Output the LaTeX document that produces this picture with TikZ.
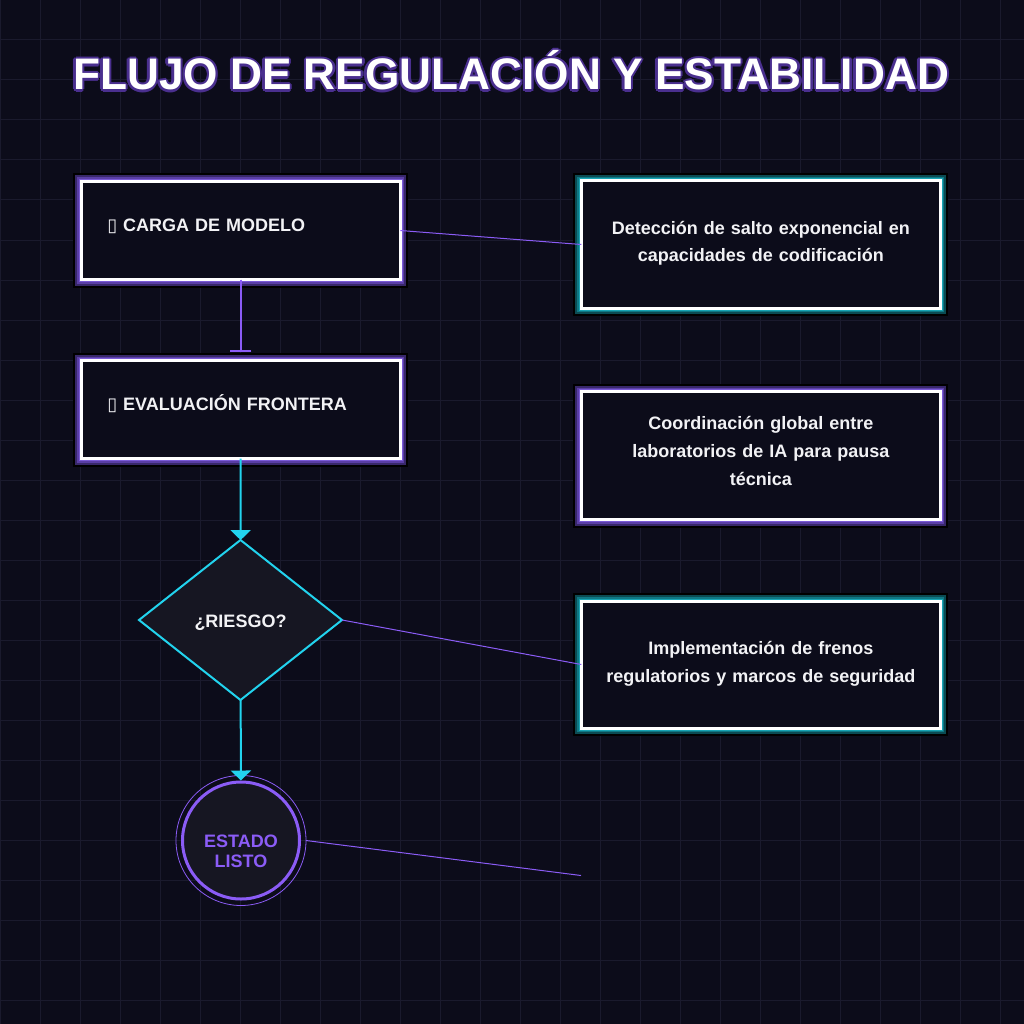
\documentclass[tikz,border=0pt]{standalone}
\usepackage{fontspec}
\setmainfont{Liberation Sans}
\newfontfamily\glyphfont{DejaVu Sans}
\usepackage{tikz}
\usetikzlibrary{arrows.meta,shapes.geometric}
\definecolor{bg}{HTML}{0C0C1A}
\definecolor{gridc}{HTML}{1A1A2D}
\definecolor{panel}{HTML}{161622}
\definecolor{text}{HTML}{F2F2F5}
\definecolor{violet}{HTML}{8B5CF6}
\definecolor{cyan}{HTML}{22D3EE}
\definecolor{vdark}{HTML}{38286A}
\definecolor{vmid}{HTML}{5A3EA6}
\definecolor{vlight}{HTML}{7A5AD6}
\definecolor{tdark}{HTML}{0B4B53}
\definecolor{tmid}{HTML}{0F7884}
\definecolor{tlight}{HTML}{18A4B4}
\definecolor{glowc}{HTML}{4A2F8F}
\tikzset{
  gridline/.style={draw=gridc, line width=1pt},
  frame/.style={rectangle, fill=bg, draw=white, line width=3pt, inner sep=0pt, outer sep=0pt},
  vbox/.style={frame,
    preaction={draw=black, line width=16pt},
    preaction={draw=vdark, line width=12pt},
    preaction={draw=vmid, line width=8pt},
    preaction={draw=vlight, line width=5pt}},
  tbox/.style={frame,
    preaction={draw=black, line width=16pt},
    preaction={draw=tdark, line width=12pt},
    preaction={draw=tmid, line width=8pt},
    preaction={draw=tlight, line width=5pt}},
  stepbox/.style={vbox, minimum width=319pt, minimum height=98pt, text=text,
    font=\fontsize{18}{22}\selectfont\bfseries, text width=267pt, align=left,
    text height=13pt, text depth=11pt},
  infobox/.style={minimum width=359pt, minimum height=127pt, text=text,
    font=\fontsize{18}{28}\selectfont\bfseries, text width=340pt, align=center},
  decision/.style={diamond, aspect=1.27, minimum width=203pt, minimum height=160pt,
    inner sep=0pt, outer sep=0pt, fill=panel, draw=cyan, line width=2pt, text=text,
    font=\fontsize{18}{22}\selectfont\bfseries, text height=14pt, text depth=0pt},
  terminal/.style={circle, minimum size=117pt, inner sep=0pt, fill=panel, draw=violet,
    line width=3pt, text=violet, font=\fontsize{18}{20}\selectfont\bfseries,
    text width=100pt, align=center, text height=13pt, text depth=0pt},
  halo/.style={circle, minimum size=130pt, inner sep=0pt, outer sep=0pt, draw=violet, line width=0.8pt},
  headline/.style={font=\fontsize{44.2}{50}\selectfont\bfseries, anchor=base, inner sep=0pt},
  flow/.style={draw=cyan, line width=2pt, -{Triangle[width=20pt,length=10pt]}},
  hold/.style={draw=violet, line width=2pt, -{Bar[width=21pt]}},
  link/.style={draw=violet, line width=1pt}
}
\def\titletxt{FLUJO DE REGULACIÓN Y ESTABILIDAD}
\def\tofu{{\glyphfont\char"25AF}}

\begin{document}
\begin{tikzpicture}[x=1pt,y=-1pt]
  \useasboundingbox (0,0) rectangle (1024,1024);
  \fill[bg] (0,0) rectangle (1024,1024);
  \foreach \g in {0,40,...,1000} {
    \draw[gridline] (\g,0) -- (\g,1024);
    \draw[gridline] (0,\g) -- (1024,\g);
  }

  % title with glow
  \foreach \a in {0,45,...,315}
    \node[headline, text=glowc, xshift={2.4*cos(\a)}, yshift={2.4*sin(\a)}] (glow\a) at (511,90) {\titletxt};
  \node[headline, text=white] (title) at (511,90) {\titletxt};

  % flow column
  \node[stepbox] (load) at (240.8,230.5) {\tofu\ CARGA DE MODELO};
  \node[stepbox] (eval) at (240.8,409.7) {\tofu\ EVALUACIÓN FRONTERA};
  \node[decision] (risk) at (240.5,620) {¿RIESGO?};
  \node[terminal] (ready) at (241,840.5) {ESTADO\\LISTO};
  \node[halo] (ring) at (ready.center) {};

  % side panels
  \node[tbox, infobox, text height=13pt, text depth=34pt] (detect) at (760.8,244.5)
    {Detección de salto exponencial en\\capacidades de codificación};
  \node[vbox, infobox, minimum height=128pt, text height=13pt, text depth=65pt] (coord) at (760.8,455.5)
    {Coordinación global entre\\laboratorios de IA para pausa\\técnica};
  \node[tbox, infobox, text height=13pt, text depth=34pt] (brake) at (760.8,664.5)
    {Implementación de frenos\\regulatorios y marcos de seguridad};
  \coordinate (spare) at (581,875.5);

  \draw[hold, shorten >=9pt] (load) -- (eval);
  \draw[flow] (eval) -- (risk);
  \draw[flow] (risk) -- (ready);

  \draw[link] (load.east) -- (detect.west);
  \draw[link] (risk.east) -- (brake.west);
  \draw[link] (ring.east) -- (spare);
\end{tikzpicture}
\end{document}
